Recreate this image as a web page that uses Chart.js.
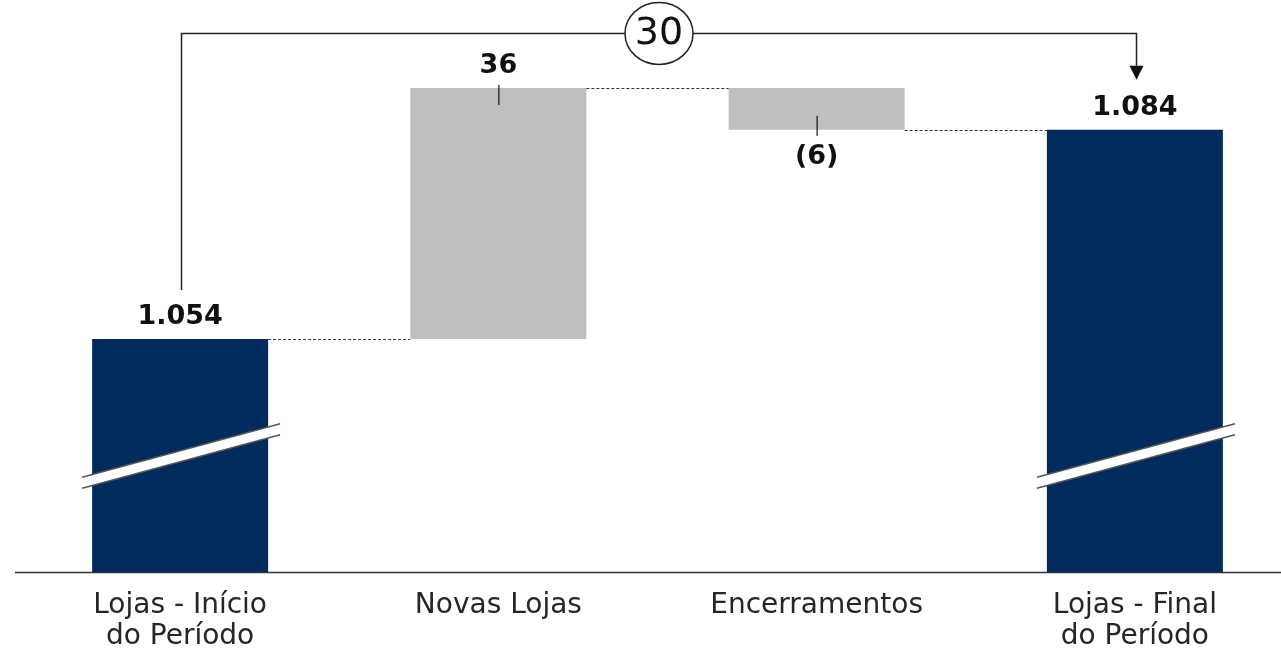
<!DOCTYPE html>
<html>
<head>
<meta charset="utf-8">
<script src="https://cdn.jsdelivr.net/npm/chart.js@4.4.1/dist/chart.umd.min.js"></script>
<style>
html, body { margin: 0; padding: 0; background: #fff; overflow: hidden; }
#wrap { width: 1295px; height: 654px; position: relative; }
</style>
</head>
<body>
<div id="wrap"><canvas id="myChart"></canvas></div>
<script>
// data
const categories = [['Lojas - Início', 'do Período'], 'Novas Lojas', 'Encerramentos', ['Lojas - Final', 'do Período']];
const startStores = 1054;
const changes = [36, -6];   // novas lojas, encerramentos
const endStores = 1084;

const navy = '#002b5c';
const gray = '#bfbfbf';

// build floating bars for the waterfall
const barData = [startStores];
const levels = [startStores];
let run = startStores;
changes.forEach(c => {
    barData.push([run, run + c]);
    run += c;
    levels.push(run);
});
barData.push(endStores);
const barColors = barData.map(v => Array.isArray(v) ? gray : navy);

const fmt = (n) => {
    const s = Math.abs(n).toString().replace(/\B(?=(\d{3})+(?!\d))/g, '.');
    return n < 0 ? '(' + s + ')' : s;
};
const labelValues = [startStores, ...changes, endStores];

// draws the white slanted "axis break" band across a bar
function drawBreak(ctx, cx, cy) {
    const hl = 99, slope = 0.27, t = 5.5;
    ctx.save();
    ctx.fillStyle = '#ffffff';
    ctx.beginPath();
    ctx.moveTo(cx - hl, cy + hl * slope - t);
    ctx.lineTo(cx + hl, cy - hl * slope - t);
    ctx.lineTo(cx + hl, cy - hl * slope + t);
    ctx.lineTo(cx - hl, cy + hl * slope + t);
    ctx.closePath();
    ctx.fill();
    ctx.strokeStyle = '#555555';
    ctx.lineWidth = 1.4;
    ctx.beginPath();
    ctx.moveTo(cx - hl, cy + hl * slope - t);
    ctx.lineTo(cx + hl, cy - hl * slope - t);
    ctx.moveTo(cx - hl, cy + hl * slope + t);
    ctx.lineTo(cx + hl, cy - hl * slope + t);
    ctx.stroke();
    ctx.restore();
}

//extras: axis line, connectors, labels, axis breaks, bracket
const waterfallExtras = {
    id: 'waterfallExtras',
    beforeDatasetsDraw(chart) {
        const ctx = chart.ctx;
        const area = chart.chartArea;
        ctx.save();
        ctx.strokeStyle = '#333';
        ctx.lineWidth = 1.5;
        ctx.beginPath();
        ctx.moveTo(15, area.bottom + 0.5);
        ctx.lineTo(chart.width, area.bottom + 0.5);
        ctx.stroke();
        ctx.restore();
    },
    afterDatasetsDraw(chart) {
        const ctx = chart.ctx;
        const ys = chart.scales.y;
        const area = chart.chartArea;
        const bars = chart.getDatasetMeta(0).data;
        ctx.save();

        // dashed connectors
        ctx.strokeStyle = '#333';
        ctx.lineWidth = 1;
        ctx.setLineDash([3, 2]);
        for (let i = 0; i < bars.length - 1; i++) {
            const py = Math.round(ys.getPixelForValue(levels[i])) + 0.5;
            ctx.beginPath();
            ctx.moveTo(bars[i].x + bars[i].width / 2, py);
            ctx.lineTo(bars[i + 1].x - bars[i + 1].width / 2, py);
            ctx.stroke();
        }
        ctx.setLineDash([]);

        // axis break marks on the total bars
        const breakY = (ys.getPixelForValue(startStores) + area.bottom) / 2 + 0.5;
        drawBreak(ctx, bars[0].x + 1, breakY);
        drawBreak(ctx, bars[bars.length - 1].x + 1, breakY);

        // value labels
        ctx.fillStyle = '#111';
        ctx.font = 'bold 27px "DejaVu Sans"';
        ctx.textAlign = 'center';
        ctx.textBaseline = 'alphabetic';
        ctx.strokeStyle = '#111';
        ctx.lineWidth = 1.2;
        bars.forEach((bar, i) => {
            const top = Math.min(bar.y, bar.base);
            const bottom = Math.max(bar.y, bar.base);
            const v = labelValues[i];
            const isChange = i > 0 && i < bars.length - 1;
            if (v < 0) {
                ctx.fillText(fmt(v), bar.x, bottom + 34);
                ctx.beginPath();
                ctx.moveTo(bar.x + 0.5, bottom - 14);
                ctx.lineTo(bar.x + 0.5, bottom + 6);
                ctx.stroke();
            } else {
                ctx.fillText(fmt(v), bar.x, top - 15);
                if (isChange) {
                    ctx.beginPath();
                    ctx.moveTo(bar.x + 0.5, top - 3);
                    ctx.lineTo(bar.x + 0.5, top + 17);
                    ctx.stroke();
                }
            }
        });

        // bracket with total change
        const first = bars[0], last = bars[bars.length - 1];
        const x1 = Math.round(first.x) + 1.5, x2 = Math.round(last.x) + 1.5;
        const highest = Math.min(...bars.map(b => Math.min(b.y, b.base)));
        const by = Math.round(highest - 55) + 0.5;
        const lastTop = Math.min(last.y, last.base);
        const firstTop = Math.min(first.y, first.base);
        ctx.strokeStyle = '#222';
        ctx.lineWidth = 1.5;
        ctx.beginPath();
        ctx.moveTo(x1, firstTop - 49);
        ctx.lineTo(x1, by);
        ctx.lineTo(x2, by);
        ctx.lineTo(x2, lastTop - 64);
        ctx.stroke();
        ctx.fillStyle = '#111';
        ctx.beginPath();
        ctx.moveTo(x2 - 7, lastTop - 64);
        ctx.lineTo(x2 + 7, lastTop - 64);
        ctx.lineTo(x2, lastTop - 50);
        ctx.closePath();
        ctx.fill();

        const mx = (x1 + x2) / 2;
        ctx.fillStyle = '#fff';
        ctx.beginPath();
        ctx.ellipse(mx, by, 34, 31, 0, 0, Math.PI * 2);
        ctx.fill();
        ctx.stroke();
        ctx.fillStyle = '#111';
        ctx.font = '38px "DejaVu Sans"';
        ctx.fillText(fmt(endStores - startStores), mx, by + 10);

        ctx.restore();
    }
};

const ctx = document.getElementById('myChart').getContext('2d');

const myChart = new Chart(ctx, {
    type: 'bar',
    data: {
        labels: categories,
        datasets: [{
            data: barData,
            backgroundColor: barColors,
            borderWidth: 0,
            barPercentage: 0.553,
            categoryPercentage: 1
        }]
    },
    options: {
        responsive: true,
        maintainAspectRatio: false,
        animation: false,
        layout: { padding: { left: 21, right: 1, top: 0, bottom: 0 } },
        plugins: {
            legend: { display: false },
            tooltip: { enabled: false }
        },
        scales: {
            x: {
                grid: { display: false },
                border: { display: false },
                ticks: {
                    color: '#262626',
                    padding: 10,
                    maxRotation: 0,
                    autoSkip: false,
                    font: { family: 'DejaVu Sans', size: 28, lineHeight: 1.12 }
                },
                afterFit: (axis) => { axis.height = 82; }
            },
            y: {
                display: false,
                min: 1020.6,
                max: 1102.6
            }
        }
    },
    plugins: [waterfallExtras]
});
</script>
</body>
</html>
